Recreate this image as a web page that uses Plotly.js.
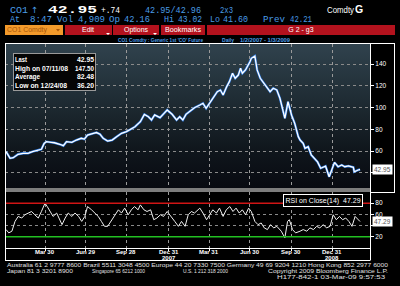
<!DOCTYPE html>
<html><head><meta charset="utf-8">
<script src="https://cdn.plot.ly/plotly-3.0.1.min.js"></script>
<style>
html,body{margin:0;padding:0;background:#000;width:400px;height:286px;overflow:hidden}
#bg{position:absolute;left:5px;top:44px;width:365px;height:144px;z-index:0;
 background:linear-gradient(to bottom,#30424d 0%,#25343d 25%,#1a252c 50%,#10171d 72%,#080a11 100%)}
#chart{position:absolute;left:0;top:0;width:400px;height:286px;z-index:1}
#ov{position:absolute;left:0;top:0;z-index:2;pointer-events:none}
</style></head>
<body>
<div id="bg"></div>
<div id="chart"></div>
<svg id="ov" width="400" height="286" xmlns="http://www.w3.org/2000/svg" font-family="Liberation Mono, DejaVu Sans Mono, monospace">
 <!-- header row 1 -->
 <text x="10" y="12.5" font-size="9" fill="#4a9de6" textLength="18" lengthAdjust="spacingAndGlyphs">CO1</text>
 <text x="31" y="12.5" font-size="8.5" fill="#4a9de6" font-family="DejaVu Sans">↑</text>
 <text x="48" y="13" font-size="11.5" font-weight="bold" fill="#ffffff" textLength="49" lengthAdjust="spacingAndGlyphs">42.95</text>
 <text x="101" y="12.5" font-size="9" fill="#ffffff" textLength="19" lengthAdjust="spacingAndGlyphs">+.74</text>
 <text x="145" y="12.5" font-size="9" fill="#4a9de6" textLength="56" lengthAdjust="spacingAndGlyphs">42.95/42.96</text>
 <text x="220" y="12.5" font-size="9" fill="#4a9de6" textLength="13" lengthAdjust="spacingAndGlyphs">2x3</text>
 <text x="327" y="12.5" font-size="8.5" fill="#ffffff" font-family="Liberation Sans" textLength="27" lengthAdjust="spacingAndGlyphs">Comdty</text>
 <text x="355" y="13" font-size="10.5" font-weight="bold" fill="#ffffff" font-family="Liberation Sans">G</text>
 <!-- header row 2 -->
 <g font-size="8.5" fill="#4a9de6">
  <text x="10" y="21.5" textLength="10" lengthAdjust="spacingAndGlyphs">At</text>
  <text x="30" y="21.5" textLength="22" lengthAdjust="spacingAndGlyphs">8:47</text>
  <text x="57" y="21.5" textLength="16" lengthAdjust="spacingAndGlyphs">Vol</text>
  <text x="78" y="21.5" textLength="27" lengthAdjust="spacingAndGlyphs">4,909</text>
  <text x="109" y="21.5" textLength="11" lengthAdjust="spacingAndGlyphs">Op</text>
  <text x="124" y="21.5" textLength="26" lengthAdjust="spacingAndGlyphs">42.16</text>
  <text x="164" y="21.5" textLength="10" lengthAdjust="spacingAndGlyphs">Hi</text>
  <text x="178" y="21.5" textLength="24" lengthAdjust="spacingAndGlyphs">43.02</text>
  <text x="210" y="21.5" textLength="10" lengthAdjust="spacingAndGlyphs">Lo</text>
  <text x="223" y="21.5" textLength="25" lengthAdjust="spacingAndGlyphs">41.60</text>
  <text x="263" y="21.5" textLength="22" lengthAdjust="spacingAndGlyphs">Prev</text>
  <text x="290" y="21.5" textLength="22" lengthAdjust="spacingAndGlyphs">42.21</text>
 </g>
 <!-- menu bar -->
 <g font-family="Liberation Sans, Arial, sans-serif" font-size="7">
  <rect x="5" y="25" width="58" height="10" fill="#f39a2b"/>
  <text x="7" y="32.3" fill="#a9560a" textLength="40" lengthAdjust="spacingAndGlyphs">CO1 Comdty</text>
  <path d="M56 29 L60 29 L58 31.5 Z" fill="#a9560a"/>
  <rect x="65" y="25" width="47" height="10" fill="#b3121d"/>
  <text x="88" y="32" fill="#ffffff" text-anchor="middle">Edit</text>
  <path d="M106 33 L110 33 L108 35 Z" fill="#ffffff"/>
  <rect x="113" y="25" width="46" height="10" fill="#b3121d"/>
  <text x="136" y="32" fill="#ffffff" text-anchor="middle">Options</text>
  <path d="M153 33 L157 33 L155 35 Z" fill="#ffffff"/>
  <rect x="161" y="25" width="44" height="10" fill="#b3121d"/>
  <text x="183" y="32" fill="#ffffff" text-anchor="middle" textLength="36" lengthAdjust="spacingAndGlyphs">Bookmarks</text>
  <rect x="207" y="25" width="188" height="10" fill="#b3121d"/>
  <text x="301" y="32" fill="#ffffff" text-anchor="middle">G 2 - g3</text>
 </g>
 <!-- title row -->
 <g font-family="Liberation Sans, Arial, sans-serif" font-size="5" fill="#4a9de6" font-weight="bold">
  <text x="118" y="41.5" textLength="85" lengthAdjust="spacingAndGlyphs">CO1 Comdty : Generic 1st 'CO' Future</text>
  <text x="222" y="41.5" textLength="12" lengthAdjust="spacingAndGlyphs">Daily</text>
  <text x="240" y="41.5" textLength="50" lengthAdjust="spacingAndGlyphs">1/2/2007 - 1/3/2009</text>
 </g>
 <!-- frames -->
 <g stroke="#ffffff" stroke-width="1" fill="none">
  <line x1="5" y1="43.5" x2="395" y2="43.5"/>
  <line x1="5.5" y1="43.5" x2="5.5" y2="260.5"/>
  <line x1="5" y1="260.5" x2="370" y2="260.5"/>
  <line x1="370.5" y1="43.5" x2="370.5" y2="260.5"/>
  <line x1="394.5" y1="43.5" x2="394.5" y2="193"/>
  <line x1="370" y1="192.5" x2="395" y2="192.5"/>
  <line x1="5" y1="248.5" x2="370" y2="248.5"/>
 </g>
 <rect x="6" y="188" width="364" height="4" fill="#7d7d7d"/>
 <!-- stats box -->
 <g font-family="Liberation Sans, Arial, sans-serif" font-size="7.2" fill="#ffffff" font-weight="bold">
  <rect x="13.5" y="53.5" width="82" height="37" fill="#050505" stroke="#9a9a9a" stroke-width="1"/>
  <text id="sl0" x="15" y="62" textLength="12" lengthAdjust="spacingAndGlyphs"></text><text id="sv0" x="77" y="62" textLength="17" lengthAdjust="spacingAndGlyphs"></text>
  <text id="sl1" x="15" y="70.5" textLength="53" lengthAdjust="spacingAndGlyphs"></text><text id="sv1" x="75" y="70.5" textLength="19" lengthAdjust="spacingAndGlyphs"></text>
  <text id="sl2" x="15" y="79" textLength="25" lengthAdjust="spacingAndGlyphs"></text><text id="sv2" x="77" y="79" textLength="17" lengthAdjust="spacingAndGlyphs"></text>
  <text id="sl3" x="15" y="87.5" textLength="52" lengthAdjust="spacingAndGlyphs"></text><text id="sv3" x="77" y="87.5" textLength="17" lengthAdjust="spacingAndGlyphs"></text>
 </g>
 <!-- footer -->
 <g font-family="Liberation Sans, Arial, sans-serif" font-size="5.5" fill="#e0e0e0">
  <text x="7" y="266.5" textLength="381" lengthAdjust="spacingAndGlyphs">Australia 61 2 9777 8600 Brazil 5511 3048 4500 Europe 44 20 7330 7500 Germany 49 69 9204 1210 Hong Kong 852 2977 6000</text>
  <text x="7" y="272.5" textLength="66" lengthAdjust="spacingAndGlyphs">Japan 81 3 3201 8900</text>
  <text x="92" y="272.5" textLength="53" lengthAdjust="spacingAndGlyphs">Singapore 65 6212 1000</text>
  <text x="183" y="272.5" textLength="45" lengthAdjust="spacingAndGlyphs">U.S. 1 212 318 2000</text>
  <text x="268" y="272.5" textLength="120" lengthAdjust="spacingAndGlyphs">Copyright 2009 Bloomberg Finance L.P.</text>
  <text x="277" y="278.5" textLength="108" lengthAdjust="spacingAndGlyphs">H177-842-1 03-Mar-09  9:57:53</text>
 </g>
</svg>
<script>
// ---- data ----
const priceDates = ['2007-01-02','2007-01-11','2007-01-18','2007-01-29','2007-02-09','2007-02-20','2007-03-02','2007-03-15','2007-03-22','2007-03-28',
 '2007-04-02','2007-04-13','2007-04-20','2007-05-02','2007-05-10','2007-05-17','2007-05-29','2007-06-08','2007-06-19','2007-06-26',
 '2007-07-03','2007-07-16','2007-07-23','2007-07-31','2007-08-07','2007-08-17','2007-08-27','2007-09-06','2007-09-17','2007-09-28',
 '2007-10-05','2007-10-17','2007-10-29','2007-11-07','2007-11-16','2007-11-23','2007-11-30','2007-12-12','2007-12-21','2007-12-28',
 '2008-01-08','2008-01-18','2008-01-25','2008-02-01','2008-02-08','2008-02-20','2008-02-27','2008-03-10','2008-03-17','2008-03-24',
 '2008-04-01','2008-04-11','2008-04-18','2008-04-25','2008-05-01','2008-05-09','2008-05-15','2008-05-22','2008-05-28','2008-06-04',
 '2008-06-09','2008-06-13','2008-06-20','2008-06-30','2008-07-03','2008-07-11','2008-07-16','2008-07-23','2008-07-31','2008-08-06',
 '2008-08-14','2008-08-21','2008-08-29','2008-09-05','2008-09-16','2008-09-23','2008-10-01','2008-10-08','2008-10-16','2008-10-20',
 '2008-10-27','2008-10-31','2008-11-07','2008-11-14','2008-11-21','2008-11-28','2008-12-05','2008-12-16','2008-12-24','2008-12-31',
 '2009-01-05','2009-01-13','2009-01-21','2009-01-28','2009-02-05','2009-02-16','2009-02-18','2009-02-27','2009-03-03'];
const priceValues = [59.4,53.3,53.8,57.0,57.9,57.9,59.4,61.0,61.6,67.0,
 68.6,68.0,67.6,66.2,64.9,68.6,68.0,70.1,71.7,71.0,
 74.7,76.3,77.0,75.4,71.7,69.2,70.1,73.2,76.3,77.8,
 79.4,82.4,87.0,93.8,91.6,88.6,93.2,90.7,94.7,97.8,
 93.8,88.6,91.6,88.6,93.8,97.8,99.9,102.4,104.0,99.3,
 104.0,110.0,114.7,116.2,111.6,119.3,123.9,131.6,127.0,130.0,
 136.2,131.6,134.7,142.3,145.4,147.5,134.7,127.0,122.4,119.3,
 114.7,117.8,116.2,108.6,90.1,105.4,93.0,85.5,73.2,70.1,
 67.0,62.5,64.0,56.3,53.3,50.0,44.1,46.0,36.2,44.1,
 49.5,45.5,47.1,45.5,46.2,45.0,40.9,42.5,42.95];

const rsiDates = ['2007-01-02','2007-01-08','2007-01-15','2007-01-22','2007-01-29','2007-02-06','2007-02-13','2007-02-21','2007-02-28','2007-03-07',
 '2007-03-15','2007-03-22','2007-03-30','2007-04-04','2007-04-10','2007-04-17','2007-04-25','2007-05-02','2007-05-07','2007-05-14',
 '2007-05-21','2007-05-29','2007-06-05','2007-06-13','2007-06-20','2007-06-27','2007-07-03','2007-07-12','2007-07-19','2007-07-27',
 '2007-08-03','2007-08-10','2007-08-17','2007-08-24','2007-09-03','2007-09-10','2007-09-17','2007-09-24','2007-10-02','2007-10-09',
 '2007-10-16','2007-10-24','2007-10-29','2007-11-06','2007-11-13','2007-11-21','2007-11-28','2007-12-05','2007-12-13','2007-12-20',
 '2007-12-28','2008-01-07','2008-01-14','2008-01-22','2008-01-29','2008-02-06','2008-02-13','2008-02-20','2008-02-27','2008-03-06',
 '2008-03-10','2008-03-17','2008-03-25','2008-04-01','2008-04-08','2008-04-16','2008-04-23','2008-05-01','2008-05-08','2008-05-16',
 '2008-05-23','2008-05-30','2008-06-06','2008-06-13','2008-06-20','2008-06-27','2008-07-03','2008-07-11','2008-07-18','2008-07-25',
 '2008-08-01','2008-08-08','2008-08-15','2008-08-22','2008-08-29','2008-09-08','2008-09-16','2008-09-22','2008-09-26','2008-10-03',
 '2008-10-10','2008-10-20','2008-10-27','2008-11-04','2008-11-11','2008-11-19','2008-11-26','2008-12-03','2008-12-11','2008-12-18',
 '2008-12-26','2009-01-02','2009-01-09','2009-01-16','2009-01-23','2009-01-30','2009-02-06','2009-02-13','2009-02-20','2009-03-03'];
const rsiValues = [32.9,27,30,47.5,56.4,53.5,59.4,62.4,65.2,59.4,
 53.5,65.2,80,74,65.2,56.4,62.4,50.5,41.7,53.5,
 62.4,56.4,62.4,56.4,47.5,56.4,74,68.2,62.4,56.4,
 47.5,38.7,38.7,47.5,59.4,68.2,62.4,71.2,59.4,68.2,
 74,68.2,77,68.2,65.2,68.2,50.5,53.5,59.4,56.4,
 65.2,53.5,47.5,38.7,47.5,38.7,59.4,65.2,62.4,68.2,
 71.2,62.4,50.5,59.4,68.2,62.4,71.2,56.4,68.2,74,
 65.2,71.2,62.4,68.2,59.4,71.2,65.2,47.5,41.7,44.7,
 35.9,32.9,41.7,35.9,38.7,30,18.2,47.5,50.5,32.9,
 27,30,32.9,30,35.9,32.9,38.7,35.9,41.7,35.9,
 38.7,59.4,50.5,56.4,50.5,53.5,47.5,38.7,56.4,47.29];

const quarterTicks = ['2007-03-30','2007-06-29','2007-09-28','2007-12-31','2008-03-31','2008-06-30','2008-09-30','2008-12-31'];
const quarterLabels = ['Mar 30','Jun 29','Sep 28','Dec 31','Mar 31','Jun 30','Sep 30','Dec 31'];
const yearLabels = ['','','','2007','','','','2008'];
const priceTicks = [40,60,80,100,120,140];
const priceTickText = ['','60','80','100','120','140'];
const rsiTicks = [20,40,60,80];
const rsiTickText = ['20','','60','80'];
const rsiBands = [80,20];
const statsLabels = ['Last','High on 07/11/08','Average','Low on 12/24/08'];
const statsValues = ['42.95','147.50','82.48','36.20'];
const lastPrice = priceValues[priceValues.length-1];
const lastRsi = rsiValues[rsiValues.length-1];

statsLabels.forEach((t,i)=>{document.getElementById('sl'+i).textContent=t;});
statsValues.forEach((t,i)=>{document.getElementById('sv'+i).textContent=t;});

const font = 'Liberation Sans, Arial, sans-serif';
const traces = [
 {x:priceDates,y:priceValues,type:'scatter',mode:'lines',line:{color:'#2a78e0',width:2.4},xaxis:'x',yaxis:'y'},
 {x:priceDates,y:priceValues,type:'scatter',mode:'lines',line:{color:'#ffffff',width:1.3},xaxis:'x',yaxis:'y'},
 {x:rsiDates,y:rsiValues,type:'scatter',mode:'lines',line:{color:'#f0f0f0',width:1},xaxis:'x',yaxis:'y2'}
];
const annotations = [
 {xref:'paper',x:1,xanchor:'left',xshift:2,yref:'y',y:lastPrice,yanchor:'middle',text:lastPrice.toFixed(2),
  showarrow:false,bgcolor:'#ffffff',font:{size:6.5,color:'#555555',family:font},borderpad:1},
 {xref:'paper',x:1,xanchor:'left',xshift:2,yref:'y2',y:lastRsi,yanchor:'middle',text:lastRsi.toFixed(2),
  showarrow:false,bgcolor:'#ffffff',font:{size:6.5,color:'#555555',family:font},borderpad:1},
 {xref:'paper',x:0.981,xanchor:'right',yref:'y2',y:84,yanchor:'middle',text:'RSI on Close(14) &nbsp;'+lastRsi.toFixed(2),
  showarrow:false,bgcolor:'#000000',bordercolor:'#ffffff',borderwidth:1,borderpad:1.5,font:{size:7,color:'#ffffff',family:font}}
];
quarterTicks.forEach((d,i)=>{
 annotations.push({xref:'x',x:d,yref:'paper',y:-0.019,yanchor:'middle',xanchor:'center',text:'<b>'+quarterLabels[i]+'</b>',
  showarrow:false,font:{size:6,color:'#ffffff',family:font}});
 if(yearLabels[i]) annotations.push({xref:'x',x:d,yref:'paper',y:-0.05,yanchor:'middle',xanchor:'center',text:'<b>'+yearLabels[i]+'</b>',
  showarrow:false,font:{size:6,color:'#ffffff',family:font}});
});
const layout = {
 width:400,height:286,autosize:false,
 margin:{l:5,r:30,t:44,b:38,pad:0},
 paper_bgcolor:'rgba(0,0,0,0)',plot_bgcolor:'rgba(0,0,0,0)',
 showlegend:false,
 font:{family:font,color:'#ffffff',size:6.5},
 xaxis:{type:'date',range:['2006-12-30 14:00','2009-03-25 06:00'],anchor:'y2',
  tickmode:'array',tickvals:quarterTicks,showticklabels:false,
  ticks:'outside',ticklen:2,tickcolor:'#ffffff',
  showgrid:true,gridcolor:'#9a9a9a',griddash:'dot',gridwidth:1,zeroline:false,showline:false},
 yaxis:{domain:[0.2941,1],range:[25.9,158.6],side:'right',anchor:'x',
  tickmode:'array',tickvals:priceTicks,ticktext:priceTickText,
  ticks:'outside',ticklen:3,tickcolor:'#ffffff',tickfont:{size:6.5,color:'#ffffff',family:font},
  showgrid:true,gridcolor:'#8a8a8a',griddash:'dot',zeroline:false,showline:false},
 yaxis2:{domain:[0,0.2745],range:[0,100],side:'right',anchor:'x',
  tickmode:'array',tickvals:rsiTicks,ticktext:rsiTickText,
  ticks:'outside',ticklen:3,tickcolor:'#ffffff',tickfont:{size:6.5,color:'#ffffff',family:font},
  showgrid:true,gridcolor:'#8a8a8a',griddash:'dot',zeroline:false,showline:false},
 shapes:[
  {type:'line',xref:'paper',x0:0,x1:1,yref:'y2',y0:rsiBands[0],y1:rsiBands[0],line:{color:'#d01515',width:1.5}},
  {type:'line',xref:'paper',x0:0,x1:1,yref:'y2',y0:rsiBands[1],y1:rsiBands[1],line:{color:'#22c022',width:1.5}}
 ],
 annotations:annotations
};
Plotly.newPlot('chart',traces,layout,{staticPlot:true,displayModeBar:false});
</script>
</body></html>
